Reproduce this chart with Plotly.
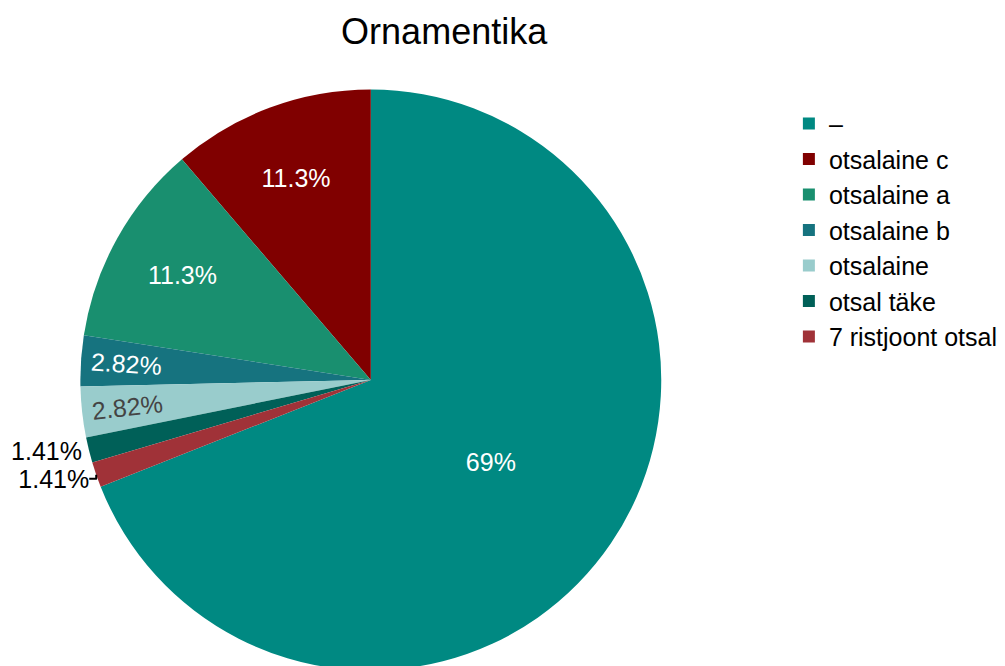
import plotly.graph_objects as go

labels = ["–", "otsalaine c", "otsalaine a", "otsalaine b", "otsalaine", "otsal täke", "7 ristjoont otsal"]
counts = [49, 8, 8, 2, 2, 1, 1]
colors = ["#008982", "#800000", "#198F6F", "#16737F", "#99CCCC", "#006058", "#A03238"]

fig = go.Figure(go.Pie(
    labels=labels,
    values=counts,
    sort=False,
    direction="counterclockwise",
    marker=dict(colors=colors, line=dict(width=0)),
    textinfo="percent",
    textfont=dict(size=25),
    outsidetextfont=dict(color="black", size=25),
    domain=dict(x=[0.072, 0.65], y=[0, 1]),
))

fig.update_layout(
    width=1005,
    height=700,
    margin=dict(l=0, r=0, t=81, b=37, autoexpand=False),
    font=dict(family="Liberation Sans, Arial, sans-serif", color="black", size=25),
    title=dict(text="Ornamentika", x=0.434, xanchor="center", y=0.966, yanchor="middle",
               font=dict(size=36, color="black")),
    legend=dict(x=0.777, y=0.98, xanchor="left", yanchor="top", font=dict(size=25)),
    paper_bgcolor="white",
    plot_bgcolor="white",
)

fig.write_html("out.html")
